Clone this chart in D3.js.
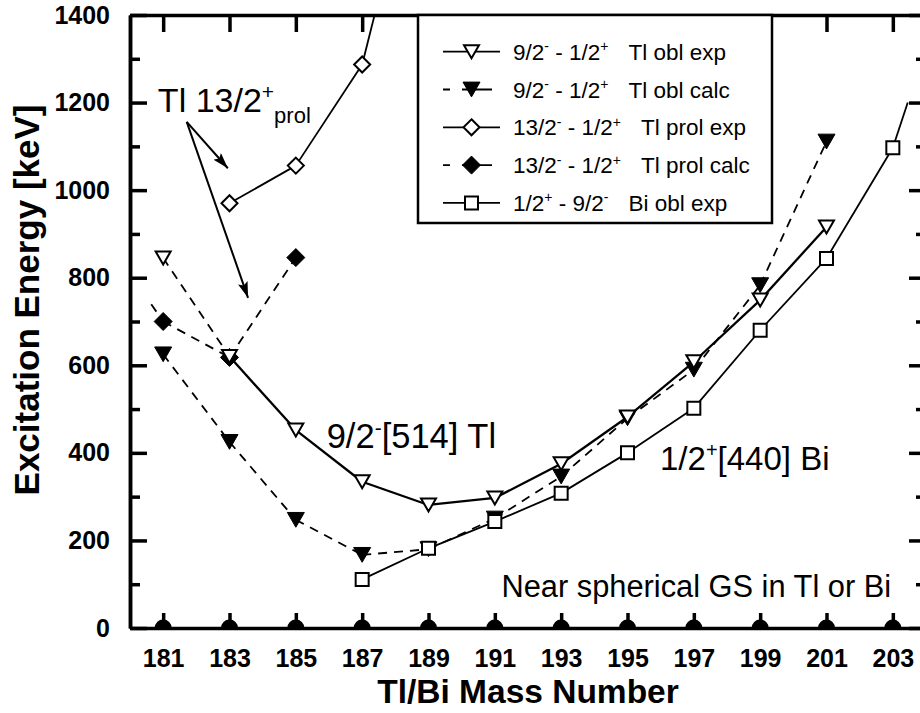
<!DOCTYPE html>
<html>
<head>
<meta charset="utf-8">
<script src="https://cdn.jsdelivr.net/npm/d3@7"></script>
<style>
  body { margin: 0; background: #fff; }
  svg { display: block; }
  text { font-family: "Liberation Sans", Arial, Helvetica, sans-serif; fill: #000; }
</style>
</head>
<body>
<svg id="chart" width="920" height="713"></svg>
<script>
// ---- data ---------------------------------------------------------------
const massNumbers = [181, 183, 185, 187, 189, 191, 193, 195, 197, 199, 201, 203];
const energyMajorTicks = [0, 200, 400, 600, 800, 1000, 1200, 1400];
const energyMinorTicks = [100, 300, 500, 700, 900, 1100, 1300];

// 9/2- -> 1/2+ band head in Tl, oblate, experiment (181 tentative)
const tlOblExpMass = [181, 183, 185, 187, 189, 191, 193, 195, 197, 199, 201];
const tlOblExpEnergy = [845, 620, 452, 334, 281, 297, 375, 482, 608, 749, 916];
const tlOblExpTentative = [181];

// 9/2- -> 1/2+ in Tl, oblate, calculation
const tlOblCalcMass = [181, 183, 185, 187, 189, 191, 193, 195, 197, 199, 201];
const tlOblCalcEnergy = [625, 425, 247, 167, 180, 250, 346, 479, 590, 783, 1111];

// 13/2+ -> 1/2+ in Tl, prolate, experiment
const tlProlExpMass = [183, 185, 187, 189];
const tlProlExpEnergy = [970, 1056, 1287, 1890];

// 13/2+ -> 1/2+ in Tl, prolate, calculation
const tlProlCalcMass = [179, 181, 183, 185];
const tlProlCalcEnergy = [920, 700, 618, 846];

// 1/2+ -> 9/2- in Bi, oblate, experiment; the curve runs on to the 1200 keV frame tick
const biOblExpMass = [187, 189, 191, 193, 195, 197, 199, 201, 203];
const biOblExpEnergy = [111, 182, 243, 308, 400, 502, 680, 844, 1097];
const biOblExpEdgeMass = 203.45;
const biOblExpEdgeEnergy = 1200;

// near-spherical ground states at zero excitation
const groundStateMass = massNumbers;
const groundStateEnergy = massNumbers.map(() => 0);

// ---- layout -------------------------------------------------------------
const svg = d3.select("#chart");
const plotLeft = 130, plotRight = 926, plotTop = 15, plotBottom = 628;
const massDomain = [180, 204];
const x = d3.scaleLinear().domain(massDomain).range([plotLeft, plotRight]);
const y = d3.scaleLinear().domain([0, 1400]).range([plotBottom, plotTop]);

const defs = svg.append("defs");
defs.append("clipPath").attr("id", "plotClip")
  .append("rect").attr("x", plotLeft).attr("y", plotTop)
  .attr("width", plotRight - plotLeft).attr("height", plotBottom - plotTop);

defs.append("marker")
  .attr("id", "arrowHead").attr("viewBox", "0 0 16 10")
  .attr("refX", 16).attr("refY", 5)
  .attr("markerWidth", 16).attr("markerHeight", 10)
  .attr("markerUnits", "userSpaceOnUse").attr("orient", "auto")
  .append("path").attr("d", "M0,0 L16,5 L0,10 L3,5 Z").attr("fill", "#000");

const plot = svg.append("g").attr("clip-path", "url(#plotClip)");

// ---- marker shapes ------------------------------------------------------
function shapePath(shape, s) {
  if (shape === "triDown") {
    const h = s * 0.87;
    return `M${-s / 2},${-h / 2}L${s / 2},${-h / 2}L0,${h / 2}Z`;
  }
  if (shape === "diamond") {
    return `M0,${-s / 2}L${s / 2},0L0,${s / 2}L${-s / 2},0Z`;
  }
  return `M${-s / 2},${-s / 2}H${s / 2}V${s / 2}H${-s / 2}Z`;
}

const series = [
  { name: "tlProlCalc", mass: tlProlCalcMass, energy: tlProlCalcEnergy, shape: "diamond", size: 18, filled: true, dashed: true, width: 1.8 },
  { name: "tlOblCalc", mass: tlOblCalcMass, energy: tlOblCalcEnergy, shape: "triDown", size: 17, filled: true, dashed: true, width: 1.8 },
  { name: "biOblExp", mass: biOblExpMass, energy: biOblExpEnergy, shape: "square", size: 13, filled: false, dashed: false, width: 1.8,
    edge: [biOblExpEdgeMass, biOblExpEdgeEnergy] },
  { name: "tlProlExp", mass: tlProlExpMass, energy: tlProlExpEnergy, shape: "diamond", size: 16, filled: false, dashed: false, width: 1.8 },
  { name: "tlOblExp", mass: tlOblExpMass, energy: tlOblExpEnergy, shape: "triDown", size: 15, filled: false, dashed: false, width: 2.3,
    tentative: tlOblExpTentative }
];

const dashPattern = "9,7";
const stubLength = 21;   // segments arriving from beyond the mass range are shown as a short lead-in
const line = d3.line().x(d => x(d[0])).y(d => y(d[1]));

// connecting lines
series.forEach(s => {
  const pts = s.mass.map((m, i) => [m, s.energy[i]]);
  if (s.edge) pts.push(s.edge);
  for (let i = 0; i < pts.length - 1; i++) {
    const tent = s.tentative && (s.tentative.includes(pts[i][0]) || s.tentative.includes(pts[i + 1][0]));
    let seg = [pts[i], pts[i + 1]];
    if (pts[i][0] < massDomain[0]) {
      const dxp = x(pts[i][0]) - x(pts[i + 1][0]), dyp = y(pts[i][1]) - y(pts[i + 1][1]);
      const f = stubLength / Math.hypot(dxp, dyp);
      seg = [[x.invert(x(pts[i + 1][0]) + dxp * f), y.invert(y(pts[i + 1][1]) + dyp * f)], pts[i + 1]];
    }
    plot.append("path")
      .attr("d", line(seg))
      .attr("fill", "none").attr("stroke", "#000")
      .attr("stroke-width", tent ? 1.8 : s.width)
      .attr("stroke-dasharray", (s.dashed || tent) ? dashPattern : null);
  }
});

// ground-state dots on the zero line
plot.selectAll("circle.gs")
  .data(groundStateMass.map((m, i) => [m, groundStateEnergy[i]]))
  .join("circle").attr("class", "gs")
  .attr("cx", d => x(d[0])).attr("cy", d => y(d[1]))
  .attr("r", 8.5).attr("fill", "#000");

// markers
series.forEach(s => {
  plot.selectAll(null)
    .data(s.mass.map((m, i) => [m, s.energy[i]]))
    .join("path")
    .attr("transform", d => `translate(${x(d[0])},${y(d[1])})`)
    .attr("d", shapePath(s.shape, s.size))
    .attr("fill", s.filled ? "#000" : "#fff")
    .attr("stroke", "#000")
    .attr("stroke-width", s.filled ? 1 : 2);
});

// ---- axes ---------------------------------------------------------------
function styleAxis(g, labelSize) {
  g.select(".domain").attr("stroke-width", 3.5).attr("stroke", "#000");
  g.selectAll(".tick line").attr("stroke-width", 3.5).attr("stroke", "#000");
  g.selectAll(".tick text").attr("font-size", labelSize).attr("font-weight", "bold")
    .attr("font-family", '"Liberation Sans", Arial, Helvetica, sans-serif').attr("fill", "#000");
}

svg.append("g").attr("transform", `translate(${plotLeft},0)`)
  .call(d3.axisLeft(y).tickValues(energyMinorTicks).tickSize(-10).tickSizeOuter(0).tickFormat(""))
  .call(g => styleAxis(g, 25));
svg.append("g").attr("transform", `translate(${plotLeft},0)`)
  .call(d3.axisLeft(y).tickValues(energyMajorTicks).tickSize(-17).tickSizeOuter(0).tickPadding(20).tickFormat(d3.format("d")))
  .call(g => styleAxis(g, 25));

svg.append("g").attr("transform", `translate(${plotRight},0)`)
  .call(d3.axisRight(y).tickValues(energyMinorTicks).tickSize(-10).tickSizeOuter(0).tickFormat(""))
  .call(g => styleAxis(g, 25));
svg.append("g").attr("transform", `translate(${plotRight},0)`)
  .call(d3.axisRight(y).tickValues(energyMajorTicks).tickSize(-17).tickSizeOuter(0).tickFormat(""))
  .call(g => styleAxis(g, 25));

svg.append("g").attr("transform", `translate(0,${plotTop})`)
  .call(d3.axisTop(x).tickValues(massNumbers).tickSize(-17).tickSizeOuter(0).tickFormat(""))
  .call(g => styleAxis(g, 25));
svg.append("g").attr("transform", `translate(0,${plotBottom})`)
  .call(d3.axisBottom(x).tickValues(massNumbers).tickSize(-15).tickSizeOuter(0).tickPadding(21).tickFormat(d3.format("d")))
  .call(g => styleAxis(g, 25));

// axis titles
svg.append("text")
  .attr("x", (plotLeft + plotRight) / 2).attr("y", 703)
  .attr("text-anchor", "middle").attr("font-size", 33.5).attr("font-weight", "bold")
  .text("Tl/Bi Mass Number");
svg.append("text")
  .attr("transform", "translate(39,300) rotate(-90)")
  .attr("text-anchor", "middle").attr("font-size", 35).attr("font-weight", "bold")
  .text("Excitation Energy [keV]");

// ---- rich text helper (super/subscripts) --------------------------------
function richText(parent, px, py, size, parts) {
  const t = parent.append("text").attr("x", px).attr("y", py)
    .attr("font-size", size).style("white-space", "pre");
  let cur = 0;
  parts.forEach(p => {
    const target = p.sup ? -size * 0.38 : p.sub ? size * 0.33 : 0;
    const span = t.append("tspan").text(p.t).attr("dy", target - cur);
    if (p.sup || p.sub) span.attr("font-size", p.small || size * 0.62);
    if (p.dx) span.attr("dx", p.dx);
    cur = target;
  });
  return t;
}

// ---- annotations --------------------------------------------------------
const ann = svg.append("g");
richText(ann, x(180.84), y(1178), 34, [
  { t: "Tl 13/2" }, { t: "+", sup: true, small: 21 }, { t: "prol", sub: true, small: 22 }
]);
const arrowFrom = [181.71, 1156];
const arrowTargets = [[182.95, 1050], [183.56, 754]];
arrowTargets.forEach(tgt => {
  ann.append("line")
    .attr("x1", x(arrowFrom[0])).attr("y1", y(arrowFrom[1]))
    .attr("x2", x(tgt[0])).attr("y2", y(tgt[1]))
    .attr("stroke", "#000").attr("stroke-width", 2)
    .attr("marker-end", "url(#arrowHead)");
});

richText(ann, x(185.93), y(411), 34.5, [
  { t: "9/2" }, { t: "-", sup: true, small: 21 }, { t: "[514] Tl" }
]);
richText(ann, x(195.98), y(361), 33, [
  { t: "1/2" }, { t: "+", sup: true, small: 20 }, { t: "[440] Bi" }
]);
richText(ann, x(191.2), y(71.5), 30.8, [{ t: "Near spherical GS in Tl or Bi" }]);

// ---- legend -------------------------------------------------------------
const legendRows = [
  { s: "tlOblExp", parts: [{ t: "9/2" }, { t: "-", sup: true }, { t: " - 1/2" }, { t: "+", sup: true }, { t: "Tl obl exp", dx: 20 }] },
  { s: "tlOblCalc", parts: [{ t: "9/2" }, { t: "-", sup: true }, { t: " - 1/2" }, { t: "+", sup: true }, { t: "Tl obl calc", dx: 20 }] },
  { s: "tlProlExp", parts: [{ t: "13/2" }, { t: "-", sup: true }, { t: " - 1/2" }, { t: "+", sup: true }, { t: "Tl prol exp", dx: 20 }] },
  { s: "tlProlCalc", parts: [{ t: "13/2" }, { t: "-", sup: true }, { t: " - 1/2" }, { t: "+", sup: true }, { t: "Tl prol calc", dx: 20 }] },
  { s: "biOblExp", parts: [{ t: "1/2" }, { t: "+", sup: true }, { t: " - 9/2" }, { t: "-", sup: true }, { t: "Bi obl exp", dx: 20 }] }
];

const legend = svg.append("g");
legend.append("rect")
  .attr("x", 418).attr("y", plotTop).attr("width", 354).attr("height", 208)
  .attr("fill", "#fff").attr("stroke", "#000").attr("stroke-width", 2.5);

legendRows.forEach((row, i) => {
  const s = series.find(d => d.name === row.s);
  const ry = 51.7 + i * 37.8;
  legend.append("line")
    .attr("x1", 443).attr("x2", 500).attr("y1", ry).attr("y2", ry)
    .attr("stroke", "#000").attr("stroke-width", 1.8)
    .attr("stroke-dasharray", s.dashed ? "7,12,30,20" : null);
  legend.append("path")
    .attr("transform", `translate(471.5,${ry})`)
    .attr("d", shapePath(s.shape, s.size))
    .attr("fill", s.filled ? "#000" : "#fff")
    .attr("stroke", "#000").attr("stroke-width", s.filled ? 1 : 2);
  richText(legend, 513, ry + 8, 22.5, row.parts.map(p => p.sup ? Object.assign({ small: 14 }, p) : p));
});
</script>
</body>
</html>
